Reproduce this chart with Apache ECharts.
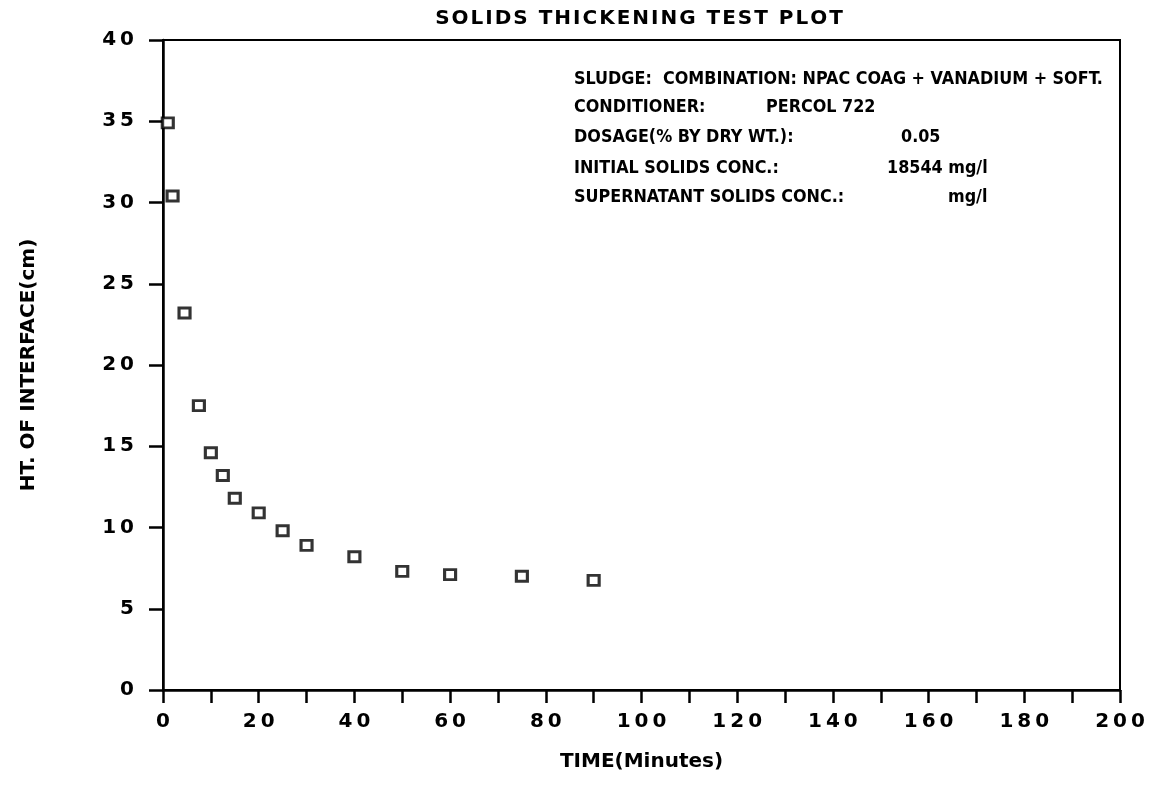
<!DOCTYPE html>
<html>
<head>
<meta charset="utf-8">
<script src="https://cdn.jsdelivr.net/npm/echarts@6/dist/echarts.min.js"></script>
<style>
html,body{margin:0;padding:0;background:#fff;}
#chart{width:1154px;height:786px;}
</style>
</head>
<body>
<div id="chart"></div>
<script>
// Data
var timeMinutes = [1, 2, 4.5, 7.5, 10, 12.5, 15, 20, 25, 30, 40, 50, 60, 75, 90];
var heightCm = [34.9, 30.4, 23.2, 17.5, 14.6, 13.2, 11.8, 10.9, 9.8, 8.9, 8.2, 7.3, 7.1, 7.0, 6.75];
var xTicks = [0, 20, 40, 60, 80, 100, 120, 140, 160, 180, 200];
var yTicks = [0, 5, 10, 15, 20, 25, 30, 35, 40];
var annotationLabels = ['SLUDGE:  COMBINATION: NPAC COAG + VANADIUM + SOFT.', 'CONDITIONER:', 'DOSAGE(% BY DRY WT.):', 'INITIAL SOLIDS CONC.:', 'SUPERNATANT SOLIDS CONC.:'];
var annotationValues = ['', 'PERCOL 722', '0.05', '18544 mg/l', 'mg/l'];

var points = timeMinutes.map(function (t, i) { return [t, heightCm[i]]; });
function spaced(v, sep) { return String(v).split('').join(sep); }

var chart = echarts.init(document.getElementById('chart'));
var fontMain = 'DejaVu Sans';
var annFont = 'bold 17.8px "DejaVu Sans Condensed", "DejaVu Sans", sans-serif';
var lineY = [79, 107, 137, 168, 197];
var valueX = [0, 766, 901, 887, 948];
var graphics = [];
annotationLabels.forEach(function (s, i) {
  graphics.push({ type: 'text', x: 574, y: lineY[i], style: { text: s, font: annFont, fill: '#000', verticalAlign: 'middle' } });
  if (annotationValues[i]) {
    graphics.push({ type: 'text', x: valueX[i], y: lineY[i], style: { text: annotationValues[i], font: annFont, fill: '#000', verticalAlign: 'middle' } });
  }
});

chart.setOption({
  animation: false,
  backgroundColor: '#fff',
  title: {
    text: spaced('SOLIDS THICKENING TEST PLOT', '\u200A'),
    left: 634, top: 4, textAlign: 'center',
    textStyle: { fontFamily: fontMain, fontWeight: 'bold', fontSize: 20, color: '#000' }
  },
  grid: { left: 163, right: 34, top: 40, bottom: 96, show: true, borderColor: '#000', borderWidth: 2, backgroundColor: 'transparent' },
  xAxis: {
    type: 'value', min: 0, max: 200, interval: 10,
    name: 'TIME(Minutes)', nameLocation: 'middle', nameGap: 62,
    nameTextStyle: { fontFamily: fontMain, fontWeight: 'bold', fontSize: 20, color: '#000' },
    axisLine: { show: true, lineStyle: { color: '#000', width: 2.5 } },
    axisTick: { show: true, inside: false, length: 13, lineStyle: { color: '#000', width: 2.5 } },
    axisLabel: {
      margin: 22, color: '#000', fontFamily: fontMain, fontWeight: 'bold', fontSize: 20,
      formatter: function (v) { return xTicks.indexOf(v) >= 0 ? spaced(v, '\u2009') : ''; }
    },
    splitLine: { show: false }
  },
  yAxis: {
    type: 'value', min: 0, max: 40, interval: 5,
    name: 'HT. OF INTERFACE(cm)', nameLocation: 'middle', nameGap: 124, nameRotate: 90,
    nameTextStyle: { fontFamily: fontMain, fontWeight: 'bold', fontSize: 20, color: '#000' },
    axisLine: { show: true, lineStyle: { color: '#000', width: 2.5 } },
    axisTick: { show: true, inside: false, length: 14, lineStyle: { color: '#000', width: 2.5 } },
    axisLabel: {
      margin: 29, color: '#000', fontFamily: fontMain, fontWeight: 'bold', fontSize: 20,
      formatter: function (v) { return yTicks.indexOf(v) >= 0 ? spaced(v, '\u2009') : ''; }
    },
    splitLine: { show: false }
  },
  series: [{
    type: 'scatter',
    data: points,
    symbol: 'rect',
    symbolSize: [11, 10],
    itemStyle: { color: '#fff', borderColor: '#000', borderWidth: 3 }
  }],
  graphic: graphics
});
</script>
</body>
</html>
